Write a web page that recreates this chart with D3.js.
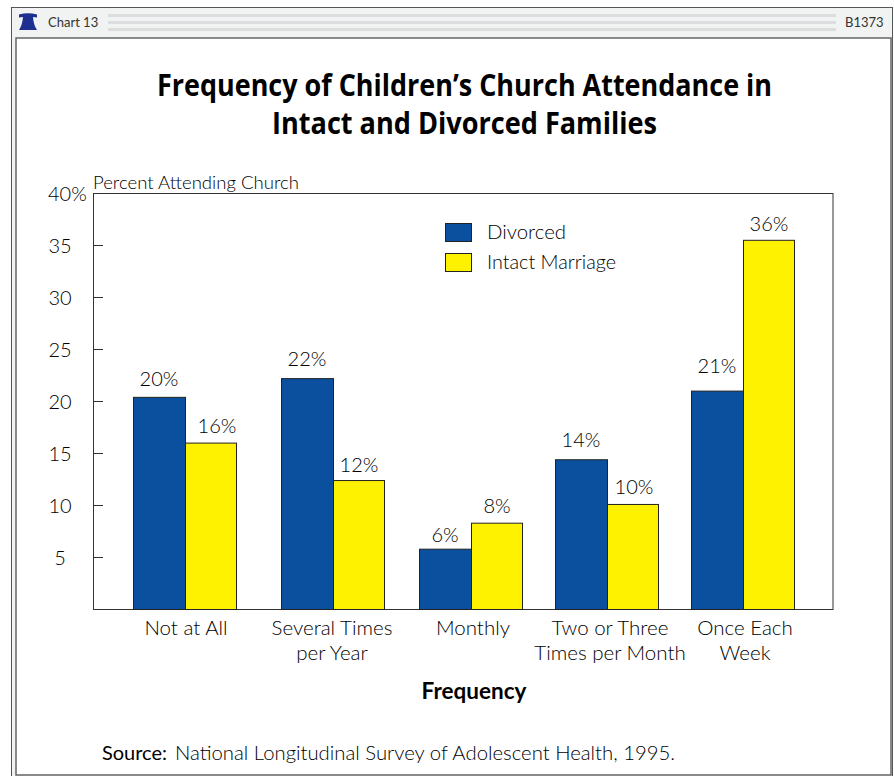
<!DOCTYPE html>
<html><head><meta charset="utf-8">
<script src="https://cdn.jsdelivr.net/npm/d3@7"></script>
<style>html,body{margin:0;padding:0;background:#fff;overflow:hidden}svg{display:block}text{font-family:Lato,sans-serif;fill:#000;font-weight:300}</style>
</head><body><svg id="c" width="894" height="776"></svg>
<script>
const categories = ["Not at All","Several Times|per Year","Monthly","Two or Three|Times per Month","Once Each|Week"];
const seriesNames = ["Divorced","Intact Marriage"];
const divorced = [20.4,22.2,5.8,14.4,21];
const intact = [16,12.4,8.3,10.1,35.5];
const divorcedLabels = ["20%","22%","6%","14%","21%"];
const intactLabels = ["16%","12%","8%","10%","36%"];
const yTicks = [5,10,15,20,25,30,35,40];
const titleLines = ["Frequency of Children’s Church Attendance in","Intact and Divorced Families"];
const groupCenters = [185,333,471,607,743];
const labelCenters = [186,332,473,610,745];
const labelGaps = [[11,12,7,12,18],[10,8,10,10,9]];
const labelShift = [[0,0,0,0,0],[6,0,0,1,0]];
const colors = {"Divorced":"#0b4f9f","Intact Marriage":"#fff200"};

const svg = d3.select("#c");
const L=93,R=833,T=193,B=609,barW=52;
// frame
svg.append("rect").attr("x",11.5).attr("y",7.5).attr("width",881).attr("height",790).attr("fill","#f1f2f2").attr("stroke","#555").attr("stroke-width",1);
svg.append("rect").attr("x",16).attr("y",38).attr("width",875).attr("height",737).attr("fill","#fff").attr("stroke","#666").attr("stroke-width",1.5);
// header
[14,21,28].forEach(y=>svg.append("rect").attr("x",108).attr("y",y).attr("width",728).attr("height",3).attr("fill","#dcddde"));
svg.append("path").attr("d","M19 14.5Q28 12 37 14.5V17.5L33 17C33.5 23 35 27 37 30H19C21 27 22.5 23 23 17L19 17.5Z").attr("fill","#1f2f8f");
svg.append("text").attr("x",48).attr("y",27).attr("font-size",13).style("font-weight",400).style("fill","#333").text("Chart 13");
svg.append("text").attr("x",845).attr("y",27).attr("font-size",13).style("font-weight",400).style("fill","#333").text("B1373");
// title
titleLines.forEach((t,i)=>svg.append("text").attr("x",464.5).attr("y",[96,134][i]).attr("text-anchor","middle")
  .style("font-family","'Open Sans',sans-serif").style("font-weight",700).attr("font-size",31)
  .attr("textLength",[615,385][i]).attr("lengthAdjust","spacingAndGlyphs").text(t));

const y=d3.scaleLinear().domain([0,40]).range([B,T]);
const x=d3.scaleOrdinal().domain(categories).range(groupCenters);
const xl=d3.scaleOrdinal().domain(categories).range(labelCenters);
// plot frame
svg.append("rect").attr("x",L+.5).attr("y",T+.5).attr("width",R-L-.5).attr("height",B-T).attr("fill","none").attr("stroke","#333").attr("stroke-width",1);
// y ticks
yTicks.forEach(v=>{
  if(v<40) svg.append("line").attr("x1",L).attr("x2",L+10).attr("y1",Math.round(y(v))+.5).attr("y2",Math.round(y(v))+.5).attr("stroke","#333");
  svg.append("text").attr("x",v==40?48:60).attr("y",y(v)+8).attr("text-anchor",v==40?"start":"middle").attr("font-size",20).text(v==40?"40%":v);
});
svg.append("text").attr("x",93).attr("y",189).attr("font-size",18).attr("textLength",206).attr("lengthAdjust","spacingAndGlyphs").text("Percent Attending Church");
// bars
const series=[divorced,intact], labels=[divorcedLabels,intactLabels];
series.forEach((vals,s)=>{
  const g=svg.append("g");
  g.selectAll("rect").data(vals).join("rect")
   .attr("x",(d,i)=>x(categories[i])+(s?0:-barW)+.5).attr("y",d=>y(d)+.5)
   .attr("width",s?barW-1:barW).attr("height",d=>B-y(d))
   .attr("fill",colors[seriesNames[s]]).attr("stroke","#222").attr("stroke-width",1);
  g.selectAll("text").data(vals).join("text")
   .attr("x",(d,i)=>x(categories[i])+(s?barW/2:-barW/2)+labelShift[s][i]).attr("y",(d,i)=>y(d)-labelGaps[s][i])
   .attr("text-anchor","middle").attr("font-size",20).text((d,i)=>labels[s][i]);
});
// category labels
categories.forEach(c=>{
  c.split("|").forEach((t,i)=>svg.append("text").attr("x",xl(c)).attr("y",635+i*25).attr("text-anchor","middle").attr("font-size",20.5).text(t));
});
svg.append("text").attr("x",474).attr("y",699).attr("text-anchor","middle").attr("font-size",22.5).style("font-weight",700).text("Frequency");
// legend
seriesNames.forEach((n,i)=>{
  const ly=223+i*30;
  svg.append("rect").attr("x",445.5).attr("y",ly+.5).attr("width",26).attr("height",18).attr("fill",colors[n]).attr("stroke","#222");
  svg.append("text").attr("x",487).attr("y",ly+16).attr("font-size",20).attr("textLength",i?129:79).attr("lengthAdjust","spacingAndGlyphs").text(n);
});
// source
svg.append("text").attr("x",102).attr("y",760).attr("font-size",19).style("font-weight",400).attr("textLength",65).attr("lengthAdjust","spacingAndGlyphs").text("Source:");
svg.append("text").attr("x",175).attr("y",760).attr("font-size",19).attr("textLength",500).attr("lengthAdjust","spacingAndGlyphs").text("National Longitudinal Survey of Adolescent Health, 1995.");
</script></body></html>
